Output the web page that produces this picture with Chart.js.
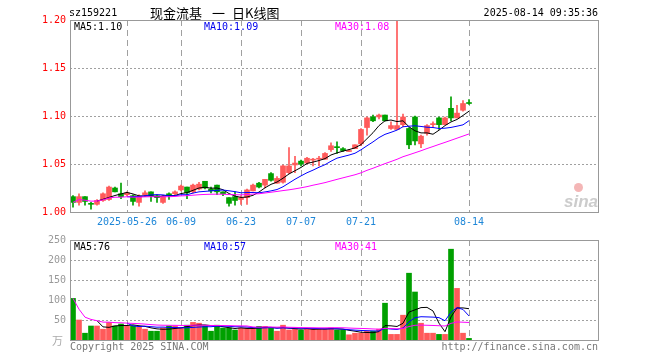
<!DOCTYPE html>
<html>
<head>
<meta charset="utf-8">
<script src="https://cdn.jsdelivr.net/npm/chart.js@4.4.1/dist/chart.umd.min.js"></script>
<style>
  body { margin: 0; background: #fff; }
  #wrap { position: relative; width: 660px; height: 360px; font-family: 'DejaVu Sans Mono', monospace; font-size: 10px; }
  #wrap canvas { position: absolute; left: 0; }
  .txt { position: absolute; white-space: nowrap; line-height: 10px; }
  .cn { font-family: 'Noto Sans CJK SC', sans-serif; font-size: 13px; line-height: 13px; }
</style>
</head>
<body>
<div id="wrap">
  <canvas id="kChart" width="660" height="232" style="top:0"></canvas>
  <canvas id="volChart" width="660" height="130" style="top:230px"></canvas>

  <div class="txt" style="left:69px;top:8px">sz159221</div>
  <div class="txt cn" style="left:150px;top:6px">现金流基</div>
  <div class="txt cn" style="left:212px;top:6px">一</div>
  <div class="txt cn" style="left:232px;top:6px">日K线图</div>
  <div class="txt" style="right:62px;top:8px">2025-08-14 09:35:36</div>

  <div class="txt" style="left:74px;top:22px;color:#000">MA5:1.10</div>
  <div class="txt" style="left:204px;top:22px;color:#0000ee">MA10:1.09</div>
  <div class="txt" style="left:335px;top:22px;color:#ff00ff">MA30:1.08</div>

  <div class="txt" style="left:74px;top:242px;color:#000">MA5:76</div>
  <div class="txt" style="left:204px;top:242px;color:#0000ee">MA10:57</div>
  <div class="txt" style="left:335px;top:242px;color:#ff00ff">MA30:41</div>

  <div class="txt cn" style="left:52px;top:334px;font-size:11px;color:#aaa">万</div>
  <div class="txt" style="left:70px;top:342px;color:#777">Copyright 2025 SINA.COM</div>
  <div class="txt" style="right:62px;top:342px;color:#777">http://finance.sina.com.cn</div>

  <div class="txt" style="left:574px;top:183px;width:9px;height:9px;border-radius:50%;background:#f4b6b6"></div>
  <div class="txt" style="left:564px;top:192px;font:italic bold 17px 'Liberation Sans',sans-serif;color:#cccccc">sina</div>
</div>

<script>
// ==================== DATA ====================
const dates = [
  '2025-05-13','2025-05-14','2025-05-15','2025-05-16',
  '2025-05-19','2025-05-20','2025-05-21','2025-05-22','2025-05-23',
  '2025-05-26','2025-05-27','2025-05-28','2025-05-29','2025-05-30',
  '2025-06-03','2025-06-04','2025-06-05','2025-06-06',
  '2025-06-09','2025-06-10','2025-06-11','2025-06-12','2025-06-13',
  '2025-06-16','2025-06-17','2025-06-18','2025-06-19','2025-06-20',
  '2025-06-23','2025-06-24','2025-06-25','2025-06-26','2025-06-27',
  '2025-06-30','2025-07-01','2025-07-02','2025-07-03','2025-07-04',
  '2025-07-07','2025-07-08','2025-07-09','2025-07-10','2025-07-11',
  '2025-07-14','2025-07-15','2025-07-16','2025-07-17','2025-07-18',
  '2025-07-21','2025-07-22','2025-07-23','2025-07-24','2025-07-25',
  '2025-07-28','2025-07-29','2025-07-30','2025-07-31','2025-08-01',
  '2025-08-04','2025-08-05','2025-08-06','2025-08-07','2025-08-08',
  '2025-08-11','2025-08-12','2025-08-13','2025-08-14'
];

const open  = [1.016,1.010,1.016,1.009,1.008,1.012,1.013,1.025,1.019,1.018,
               1.017,1.010,1.018,1.021,1.017,1.010,1.019,1.019,1.023,1.026,
               1.021,1.024,1.032,1.024,1.028,1.021,1.015,1.016,1.013,1.015,
               1.022,1.030,1.028,1.040,1.030,1.031,1.041,1.049,1.053,1.051,
               1.054,1.055,1.055,1.065,1.068,1.066,1.063,1.066,1.071,1.088,
               1.099,1.099,1.101,1.087,1.086,1.091,1.087,1.099,1.071,1.082,
               1.091,1.098,1.091,1.108,1.098,1.106,1.114];
const high  = [1.017,1.019,1.016,1.010,1.013,1.020,1.027,1.026,1.030,1.021,
               1.018,1.018,1.022,1.021,1.018,1.017,1.020,1.022,1.028,1.026,
               1.029,1.031,1.032,1.026,1.028,1.021,1.015,1.021,1.017,1.024,
               1.029,1.031,1.034,1.041,1.037,1.049,1.067,1.058,1.054,1.057,
               1.056,1.058,1.062,1.072,1.073,1.067,1.065,1.070,1.087,1.099,
               1.101,1.102,1.101,1.094,1.199,1.102,1.088,1.100,1.080,1.091,
               1.094,1.099,1.099,1.120,1.111,1.116,1.117];
const low   = [1.005,1.007,1.007,1.003,1.007,1.011,1.012,1.021,1.014,1.017,
               1.007,1.006,1.016,1.011,1.010,1.009,1.013,1.018,1.022,1.014,
               1.020,1.023,1.024,1.020,1.018,1.017,1.006,1.007,1.008,1.008,
               1.022,1.025,1.025,1.032,1.030,1.030,1.040,1.041,1.048,1.050,
               1.048,1.048,1.055,1.063,1.061,1.063,1.063,1.066,1.069,1.080,
               1.094,1.097,1.095,1.086,1.086,1.089,1.066,1.070,1.067,1.080,
               1.088,1.086,1.091,1.095,1.098,1.105,1.112];
const close = [1.010,1.016,1.011,1.008,1.012,1.019,1.026,1.021,1.016,1.020,
               1.011,1.016,1.020,1.017,1.015,1.016,1.017,1.021,1.027,1.020,
               1.028,1.029,1.025,1.022,1.021,1.019,1.009,1.012,1.015,1.023,
               1.028,1.026,1.034,1.033,1.035,1.048,1.048,1.051,1.050,1.056,
               1.055,1.056,1.061,1.069,1.067,1.064,1.064,1.070,1.086,1.098,
               1.095,1.101,1.095,1.090,1.090,1.099,1.070,1.074,1.079,1.090,
               1.092,1.091,1.098,1.098,1.103,1.113,1.113];

const ma5  = [null,null,null,null,1.0114,1.0132,1.0152,1.0172,1.0188,1.0204,
              1.0188,1.0168,1.0166,1.0168,1.0158,1.0168,1.0170,1.0172,1.0192,1.0202,
              1.0226,1.0250,1.0258,1.0248,1.0250,1.0232,1.0192,1.0166,1.0152,1.0156,
              1.0174,1.0208,1.0252,1.0288,1.0312,1.0352,1.0396,1.0430,1.0464,1.0506,
              1.0520,1.0536,1.0556,1.0594,1.0616,1.0634,1.0650,1.0668,1.0702,1.0764,
              1.0826,1.0900,1.0950,1.0958,1.0942,1.0950,1.0888,1.0846,1.0824,1.0824,
              1.0810,1.0852,1.0900,1.0938,1.0964,1.1006,1.1050];
const ma10 = [null,null,null,null,null,null,null,null,null,1.0159,
              1.0160,1.0160,1.0169,1.0178,1.0181,1.0178,1.0169,1.0169,1.0180,1.0180,
              1.0197,1.0210,1.0215,1.0220,1.0226,1.0229,1.0221,1.0212,1.0200,1.0203,
              1.0203,1.0200,1.0209,1.0220,1.0234,1.0263,1.0302,1.0341,1.0376,1.0409,
              1.0436,1.0466,1.0493,1.0529,1.0561,1.0577,1.0593,1.0612,1.0648,1.0690,
              1.0730,1.0775,1.0809,1.0830,1.0853,1.0888,1.0894,1.0898,1.0891,1.0883,
              1.0880,1.0870,1.0873,1.0881,1.0894,1.0908,1.0951];
const ma30 = [1.0100,1.0130,1.0123,1.0113,1.0114,1.0127,1.0146,1.0154,1.0154,1.0159,
              1.0155,1.0155,1.0158,1.0159,1.0159,1.0159,1.0159,1.0162,1.0168,1.0170,
              1.0175,1.0180,1.0183,1.0185,1.0186,1.0186,1.0182,1.0180,1.0179,1.0181,
              1.0187,1.0190,1.0198,1.0206,1.0214,1.0223,1.0231,1.0241,1.0252,1.0264,
              1.0279,1.0292,1.0306,1.0323,1.0340,1.0356,1.0372,1.0388,1.0408,1.0434,
              1.0456,1.0480,1.0504,1.0526,1.0549,1.0576,1.0596,1.0617,1.0638,1.0661,
              1.0682,1.0704,1.0725,1.0747,1.0769,1.0791,1.0813];

// volume, 万手
const volume = [104,50,17,35,35,27,44,35,40,35,
                35,33,27,22,22,30,35,35,30,37,
                44,42,35,22,37,30,30,25,30,30,
                30,34,34,30,22,37,25,28,25,28,
                28,28,28,30,25,25,13,17,17,22,
                22,27,92,14,14,62,167,120,42,17,
                17,14,14,227,129,17,4];
const volMa5  = [null,null,null,null,48.2,32.8,31.6,35.2,36.2,36.2,
                 37.8,35.6,34,30.4,27.8,26.8,27.2,28.8,30.4,33.4,
                 36.2,37.6,37.6,36,36,33.2,30.8,28.8,30.4,29,
                 29,29.8,31.6,31.6,30,31.4,29.6,28.4,27.4,28.6,
                 26.8,27.4,27.4,28.4,27.8,27.2,24.2,22,19.4,18.8,
                 18.2,21,36,35.4,33.8,41.8,69.8,75.4,81,81.6,
                 72.6,42,20.8,57.8,80.2,80.2,78.2];
const volMa10 = [null,null,null,null,null,null,null,null,null,42.2,
                 35.3,33.6,34.6,33.3,32,32.3,31.4,31.4,30.4,30.6,
                 31.5,32.4,33.2,33.2,34.7,34.7,34.2,33.2,33.2,32.5,
                 31.1,30.3,30.2,31,29.5,30.2,29.7,30,29.5,29.3,
                 29.1,28.5,27.9,27.9,28.2,27,25.8,24.7,23.9,23.3,
                 22.7,22.6,29,27.4,26.3,30,45.4,55.7,58.2,57.7,
                 57.2,55.9,48.1,69.4,80.9,76.4,60.1];
const volMa30 = [104,77,57,51.5,48.2,44.7,44.6,43.4,43,42.2,
                 41.5,40.8,39.8,38.5,37.4,36.9,36.8,36.7,36.4,36.4,
                 36.8,37,36.9,36.3,36.3,36.1,35.9,35.5,35.3,35.1,
                 32.6,32.1,32.7,32.5,32.1,32.4,31.8,31.5,31,30.8,
                 30.6,30.4,30.4,30.7,30.8,30.6,29.9,29.3,28.9,28.4,
                 27.6,27.1,29,28.8,28,29.1,33.6,36.8,37.2,36.8,
                 36.3,35.7,35,41.6,45.1,44.5,43.8];

// dates that get a dashed line + label under the K chart
const markedDates = ['2025-05-26','2025-06-09','2025-06-23','2025-07-07','2025-07-21','2025-08-14'];
const markedText  = ['2025-05-26','06-09','06-23','07-07','07-21','08-14'];

const priceTicks = [1.00, 1.05, 1.10, 1.15, 1.20];
const volTicks   = [0, 50, 100, 150, 200, 250];

// ==================== STYLE ====================
const RED = '#ff5a5a';
const GREEN = '#00a000';
const GRID = '#a0a0a0';
const MONO = { family: "'DejaVu Sans Mono', monospace", size: 10 };

// leave 21 empty trading slots to the right, like the original
const slots = dates.concat(new Array(21).fill(''));
const candleColors = close.map((c, i) => (c >= open[i] ? RED : GREEN));

// frame + dotted/dashed guide lines, placed through the chart's own scales
const guides = {
  id: 'guides',
  beforeDatasetsDraw(chart, args, opts) {
    const { ctx, chartArea: a, scales: { x, y } } = chart;
    ctx.save();
    ctx.strokeStyle = GRID;
    ctx.lineWidth = 1;
    ctx.setLineDash([2, 2]);
    opts.yLines.forEach(v => {
      const py = Math.round(y.getPixelForValue(v)) + 0.5;
      ctx.beginPath(); ctx.moveTo(a.left, py); ctx.lineTo(a.right, py); ctx.stroke();
    });
    ctx.setLineDash([6, 4]);
    markedDates.forEach(d => {
      const px = Math.round(x.getPixelForValue(slots.indexOf(d))) + 0.5;
      ctx.beginPath(); ctx.moveTo(px, a.top); ctx.lineTo(px, a.bottom); ctx.stroke();
    });
    ctx.restore();
  },
  afterDraw(chart) {
    const { ctx, chartArea: a } = chart;
    ctx.save();
    ctx.strokeStyle = '#999';
    ctx.lineWidth = 1;
    ctx.strokeRect(Math.round(a.left) + 0.5, Math.round(a.top) + 0.5, Math.round(a.width), Math.round(a.height));
    ctx.restore();
  }
};

function xScale(showLabels) {
  return {
    type: 'category',
    offset: true,
    afterFit: s => { s.height = 20; },
    grid: { display: false, drawTicks: false },
    border: { display: false },
    ticks: {
      display: showLabels,
      autoSkip: false,
      maxRotation: 0,
      minRotation: 0,
      padding: 4,
      color: '#1f87d8',
      font: MONO,
      callback: (v, i) => {
        const k = markedDates.indexOf(slots[i]);
        return k < 0 ? '' : markedText[k];
      }
    }
  };
}

function yScale(ticks, color, fmt) {
  return {
    min: ticks[0],
    max: ticks[ticks.length - 1],
    afterFit: s => { s.width = 70; },
    afterBuildTicks: s => { s.ticks = ticks.map(v => ({ value: v })); },
    grid: { display: false, drawTicks: false },
    border: { display: false },
    ticks: { padding: 4, color, font: MONO, callback: fmt }
  };
}

function maLine(data, color) {
  return { type: 'line', data, borderColor: color, borderWidth: 1, pointRadius: 0, tension: 0, order: 0 };
}

// ==================== K CHART ====================
new Chart(document.getElementById('kChart'), {
  type: 'bar',
  data: {
    labels: slots,
    datasets: [
      maLine(ma30, '#ff00ff'),
      maLine(ma10, '#0000ff'),
      maLine(ma5, '#000000'),
      {
        data: dates.map((d, i) => [open[i], close[i]]),
        backgroundColor: candleColors,
        barThickness: 5,
        minBarLength: 1,
        grouped: false,
        order: 1
      },
      {
        data: dates.map((d, i) => [low[i], high[i]]),
        backgroundColor: candleColors,
        barThickness: 1,
        grouped: false,
        order: 2
      }
    ]
  },
  options: {
    responsive: false,
    animation: false,
    devicePixelRatio: 1,
    layout: { padding: { top: 20, right: 62, bottom: 0, left: 0 } },
    plugins: {
      legend: { display: false },
      tooltip: { enabled: false },
      guides: { yLines: priceTicks.slice(1, -1) }
    },
    scales: {
      x: xScale(true),
      y: yScale(priceTicks, '#ff0000', v => v.toFixed(2))
    }
  },
  plugins: [guides]
});

// ==================== VOLUME ====================
new Chart(document.getElementById('volChart'), {
  type: 'bar',
  data: {
    labels: slots,
    datasets: [
      maLine(volMa30, '#ff00ff'),
      maLine(volMa10, '#0000ff'),
      maLine(volMa5, '#000000'),
      { data: volume, backgroundColor: candleColors, barThickness: 5, order: 1 }
    ]
  },
  options: {
    responsive: false,
    animation: false,
    devicePixelRatio: 1,
    layout: { padding: { top: 10, right: 62, bottom: 0, left: 0 } },
    plugins: {
      legend: { display: false },
      tooltip: { enabled: false },
      guides: { yLines: volTicks.slice(1, -1) }
    },
    scales: {
      x: xScale(false),
      y: yScale(volTicks, '#999999', v => (v === 0 ? '' : v))
    }
  },
  plugins: [guides]
});
</script>
</body>
</html>
